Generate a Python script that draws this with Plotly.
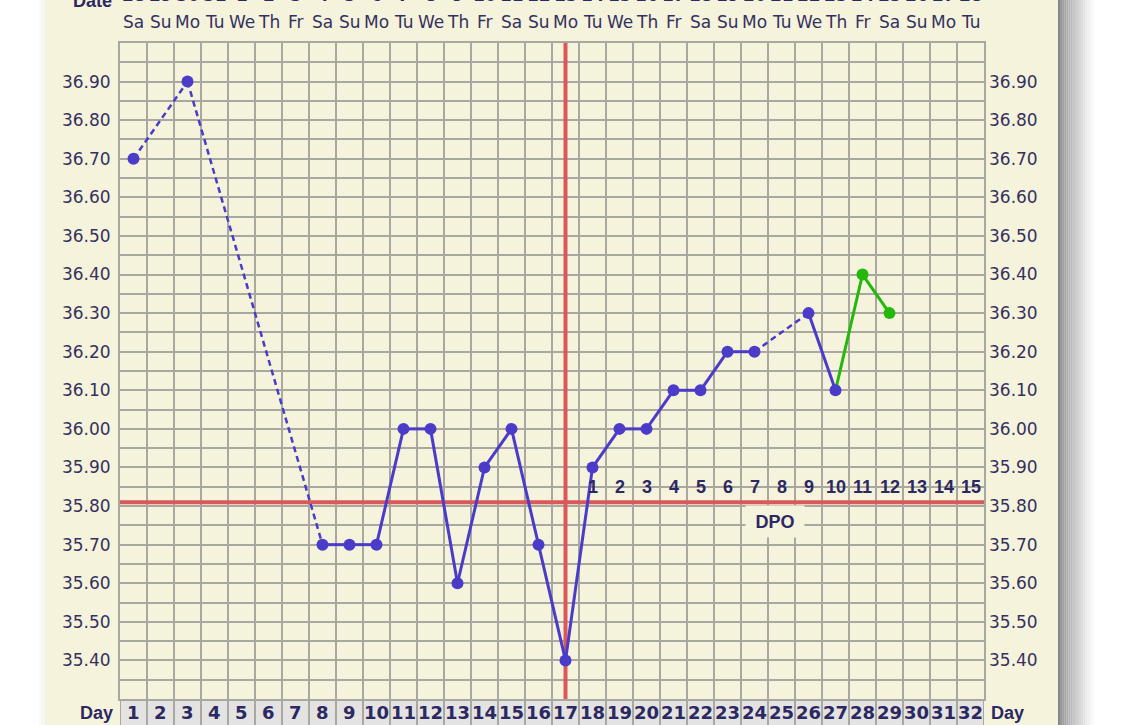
import plotly.graph_objects as go

# ---------------- data ----------------
days = list(range(1, 33))
weekdays = (["Sa", "Su", "Mo", "Tu", "We", "Th", "Fr"] * 5)[:32]
dates = [28, 29, 30, 31] + list(range(1, 29))

blue_days = [1, 3, 8, 9, 10, 11, 12, 13, 14, 15, 16, 17, 18, 19, 20, 21, 22, 23, 24, 26, 27]
blue_temps = [36.70, 36.90, 35.70, 35.70, 35.70, 36.00, 36.00, 35.60, 35.90, 36.00, 35.70,
              35.40, 35.90, 36.00, 36.00, 36.10, 36.10, 36.20, 36.20, 36.30, 36.10]
green_days = [27, 28, 29]
green_temps = [36.10, 36.40, 36.30]

y_tick_labels = ["35.40", "35.50", "35.60", "35.70", "35.80", "35.90", "36.00", "36.10",
                 "36.20", "36.30", "36.40", "36.50", "36.60", "36.70", "36.80", "36.90"]
y_min, y_max = 35.30, 37.00

coverline = 35.81
ovulation_day = 17
dpo_labels = list(range(1, 16))
dpo_start_day = 18

# ---------------- style ----------------
W, H = 1125, 725
L, R, T, B = 120, 141, 43, 26
PW, PH = W - L - R, H - T - B
CREAM = "#F5F3DC"
GRID = "#A9A8A0"
NAVY = "#2B2862"
TICKNAVY = "#34315F"
BLUE = "#4A3CC9"
GREEN = "#24B80A"
RED = "#D9595A"


def px_x(px):
    return (px - L) / PW


def px_y(py):
    return (T + PH - py) / PH


# segments
solid_x, solid_y, dash_x, dash_y = [], [], [], []
for i in range(len(blue_days) - 1):
    d1, d2 = blue_days[i], blue_days[i + 1]
    t1, t2 = blue_temps[i], blue_temps[i + 1]
    if d2 - d1 == 1:
        solid_x += [d1, d2, None]
        solid_y += [t1, t2, None]
    else:
        dash_x += [d1, d2, None]
        dash_y += [t1, t2, None]

x_lo, x_hi = days[0] - 0.5, days[-1] + 0.5

fig = go.Figure()
# cover line and ovulation line (above grid, below data)
fig.add_trace(go.Scatter(x=[x_lo, x_hi], y=[coverline, coverline], mode="lines",
                         line=dict(color=RED, width=4), hoverinfo="skip", showlegend=False))
fig.add_trace(go.Scatter(x=[ovulation_day, ovulation_day], y=[y_min, y_max], mode="lines",
                         line=dict(color=RED, width=4), hoverinfo="skip", showlegend=False))
fig.add_trace(go.Scatter(x=dash_x, y=dash_y, mode="lines",
                         line=dict(color=BLUE, width=2.5, dash="6px,4px"),
                         hoverinfo="skip", showlegend=False))
fig.add_trace(go.Scatter(x=solid_x, y=solid_y, mode="lines",
                         line=dict(color=BLUE, width=3), hoverinfo="skip", showlegend=False))
fig.add_trace(go.Scatter(x=green_days, y=green_temps, mode="lines+markers",
                         line=dict(color=GREEN, width=3),
                         marker=dict(size=12, color=["rgba(0,0,0,0)"] + [GREEN] * (len(green_days) - 1)),
                         showlegend=False))
fig.add_trace(go.Scatter(x=blue_days, y=blue_temps, mode="markers",
                         marker=dict(size=12, color=BLUE), showlegend=False))
# invisible trace to carry the right-hand axis
fig.add_trace(go.Scatter(x=[None], y=[None], yaxis="y2", showlegend=False, hoverinfo="skip"))

# grid ticks
n_steps = int(round((y_max - y_min) / 0.05))
grid_vals = [round(y_min + k * 0.05, 2) for k in range(n_steps + 1)]
label_map = {float(s): s for s in y_tick_labels}
grid_text = [label_map.get(v, "") for v in grid_vals]
x_grid = [d - 0.5 for d in days] + [days[-1] + 0.5]

tickfont = dict(family="DejaVu Sans", size=17, color=TICKNAVY)
shapes = []

# panel shadow (right side) and faint left shadow
shadow_steps = 18
for k in range(shadow_steps):
    f = k / (shadow_steps - 1)
    c = int(135 + (255 - 135) * (f ** 0.75))
    x0 = 1058 + k * 2.1
    shapes.append(dict(type="rect", xref="paper", yref="paper",
                       x0=px_x(x0), x1=px_x(x0 + 2.2), y0=px_y(760), y1=px_y(-40),
                       fillcolor=f"rgb({c},{c},{c})", line_width=0, layer="below"))
for k in range(4):
    c = 250 - k * 2
    shapes.append(dict(type="rect", xref="paper", yref="paper",
                       x0=px_x(39 + k * 1.5), x1=px_x(40.6 + k * 1.5), y0=px_y(760), y1=px_y(-40),
                       fillcolor=f"rgb({c},{c},{c - 2})", line_width=0, layer="below"))
# cream panel
shapes.append(dict(type="rect", xref="paper", yref="paper",
                   x0=px_x(45), x1=px_x(1058), y0=px_y(760), y1=px_y(-40),
                   fillcolor=CREAM, line_width=0, layer="below"))
# day row cells
shapes.append(dict(type="rect", xref="x", yref="paper",
                   x0=x_lo, x1=x_hi, y0=px_y(760), y1=0,
                   fillcolor="#E4E3E2", line_width=0, layer="below"))
for xv in x_grid:
    shapes.append(dict(type="line", xref="x", yref="paper", x0=xv, x1=xv,
                       y0=px_y(760), y1=0, line=dict(color=GRID, width=2), layer="below"))

annotations = []
for d, wd, dt in zip(days, weekdays, dates):
    annotations.append(dict(x=d, y=1, xref="x", yref="paper", text=wd, showarrow=False,
                            xanchor="center", yanchor="middle", yshift=21,
                            font=dict(family="DejaVu Sans", size=17, color=TICKNAVY)))
    annotations.append(dict(x=d, y=1, xref="x", yref="paper", text=f"<b>{dt}</b>", showarrow=False,
                            xanchor="center", yanchor="middle", yshift=48,
                            font=dict(family="DejaVu Sans", size=17, color=NAVY)))
    annotations.append(dict(x=d, y=0, xref="x", yref="paper", text=f"<b>{d}</b>", showarrow=False,
                            xanchor="center", yanchor="middle", yshift=-13.5,
                            font=dict(family="DejaVu Sans", size=18, color=NAVY)))
for i, lab in enumerate(dpo_labels):
    annotations.append(dict(x=dpo_start_day + i, y=35.85, xref="x", yref="y",
                            text=f"<b>{lab}</b>", showarrow=False,
                            xanchor="center", yanchor="middle",
                            font=dict(family="Liberation Sans", size=18, color=NAVY)))
annotations.append(dict(x=24.76, y=35.76, xref="x", yref="y", text="<b>DPO</b>", showarrow=False,
                        xanchor="center", yanchor="middle",
                        width=56, height=29, bgcolor=CREAM,
                        font=dict(family="Liberation Sans", size=18, color=NAVY)))
annotations.append(dict(x=px_x(96), y=0, xref="paper", yref="paper", text="<b>Day</b>",
                        showarrow=False, xanchor="center", yanchor="middle", yshift=-13.5,
                        font=dict(family="Liberation Sans", size=18, color=NAVY)))
annotations.append(dict(x=px_x(1008), y=0, xref="paper", yref="paper", text="<b>Day</b>",
                        showarrow=False, xanchor="center", yanchor="middle", yshift=-13.5,
                        font=dict(family="Liberation Sans", size=18, color=NAVY)))
annotations.append(dict(x=px_x(92), y=1, xref="paper", yref="paper", text="<b>Date</b>",
                        showarrow=False, xanchor="center", yanchor="middle", yshift=42,
                        font=dict(family="Liberation Sans", size=18, color=NAVY)))

yaxis_common = dict(range=[y_min, y_max], tickvals=grid_vals, ticktext=grid_text,
                    tickfont=tickfont, ticks="", zeroline=False, fixedrange=True)

fig.update_layout(
    width=W, height=H,
    margin=dict(l=L, r=R, t=T, b=B, pad=0),
    paper_bgcolor="white",
    plot_bgcolor=CREAM,
    showlegend=False,
    xaxis=dict(range=[x_lo, x_hi], tickvals=x_grid, showticklabels=False, ticks="",
               showgrid=True, gridcolor=GRID, gridwidth=2, zeroline=False,
               showline=True, linecolor=GRID, linewidth=2, mirror=True, fixedrange=True),
    yaxis=dict(**yaxis_common, showgrid=True, gridcolor=GRID, gridwidth=2,
               showline=True, linecolor=GRID, linewidth=2, mirror=True,
               ticklabelstandoff=4),
    yaxis2=dict(**yaxis_common, overlaying="y", side="right", matches="y",
                showgrid=False, showline=False, ticklabelstandoff=4),
    shapes=shapes,
    annotations=annotations,
)

fig.write_html("out.html", config={"displayModeBar": False},
               post_script="document.body.style.margin='0';document.body.style.overflow='hidden';")
